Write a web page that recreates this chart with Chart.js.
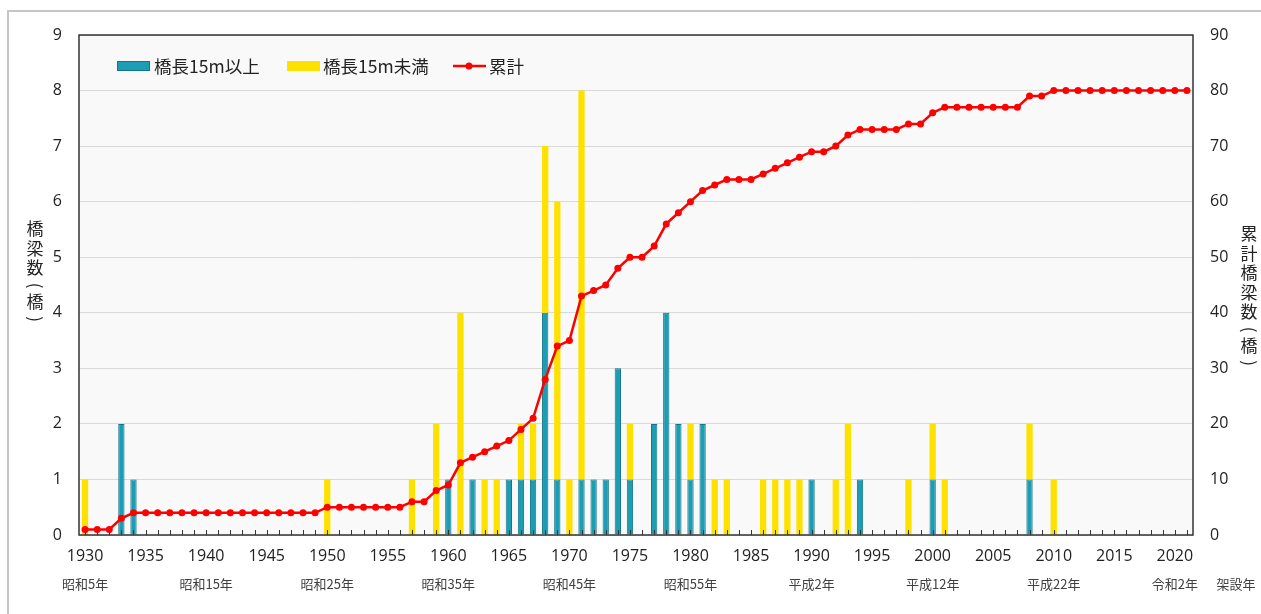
<!DOCTYPE html>
<html lang="ja">
<head>
<meta charset="utf-8">
<title>架設年別橋梁数</title>
<script src="https://cdn.jsdelivr.net/npm/chart.js@4.4.1/dist/chart.umd.min.js"></script>
<style>
  html, body { margin: 0; padding: 0; background: #fff; overflow: hidden; }
  #wrap { position: relative; width: 1261px; height: 614px; }
  #frame { position: absolute; left: 7px; top: 10px; width: 1300px; height: 700px;
           border-top: 2px solid #c6c6c6; border-left: 2px solid #c6c6c6; pointer-events: none; }
  canvas { position: absolute; left: 0; top: 0; }
</style>
</head>
<body>
<div id="wrap">
  <canvas id="c" width="1261" height="614"></canvas>
  <div id="frame"></div>
</div>
<script>
// 架設年 (1930〜2021)
const years = Array.from({ length: 92 }, (_, i) => 1930 + i);

// 橋長15m以上
const over15 = [
  0, 0, 0, 2, 1, 0, 0, 0, 0, 0,   // 1930s
  0, 0, 0, 0, 0, 0, 0, 0, 0, 0,   // 1940s
  0, 0, 0, 0, 0, 0, 0, 0, 0, 0,   // 1950s
  1, 0, 1, 0, 0, 1, 1, 1, 4, 1,   // 1960s
  0, 1, 1, 1, 3, 1, 0, 2, 4, 2,   // 1970s
  1, 2, 0, 0, 0, 0, 0, 0, 0, 0,   // 1980s
  1, 0, 0, 0, 1, 0, 0, 0, 0, 0,   // 1990s
  1, 0, 0, 0, 0, 0, 0, 0, 1, 0,   // 2000s
  0, 0, 0, 0, 0, 0, 0, 0, 0, 0,   // 2010s
  0, 0                            // 2020s
];

// 橋長15m未満
const under15 = [
  1, 0, 0, 0, 0, 0, 0, 0, 0, 0,
  0, 0, 0, 0, 0, 0, 0, 0, 0, 0,
  1, 0, 0, 0, 0, 0, 0, 1, 0, 2,
  0, 4, 0, 1, 1, 0, 1, 1, 3, 5,
  1, 7, 0, 0, 0, 1, 0, 0, 0, 0,
  1, 0, 1, 1, 0, 0, 1, 1, 1, 1,
  0, 0, 1, 2, 0, 0, 0, 0, 1, 0,
  1, 1, 0, 0, 0, 0, 0, 0, 1, 0,
  1, 0, 0, 0, 0, 0, 0, 0, 0, 0,
  0, 0
];

// 累計
const cumulative = [
  1, 1, 1, 3, 4, 4, 4, 4, 4, 4,
  4, 4, 4, 4, 4, 4, 4, 4, 4, 4,
  5, 5, 5, 5, 5, 5, 5, 6, 6, 8,
  9, 13, 14, 15, 16, 17, 19, 21, 28, 34,
  35, 43, 44, 45, 48, 50, 50, 52, 56, 58,
  60, 62, 63, 64, 64, 64, 65, 66, 67, 68,
  69, 69, 70, 72, 73, 73, 73, 73, 74, 74,
  76, 77, 77, 77, 77, 77, 77, 77, 79, 79,
  80, 80, 80, 80, 80, 80, 80, 80, 80, 80,
  80, 80
];

// 和暦の補助ラベル
const eraYears = [1930, 1940, 1950, 1960, 1970, 1980, 1990, 2000, 2010, 2020];
const eraLabels = ['昭和5年', '昭和15年', '昭和25年', '昭和35年', '昭和45年',
                   '昭和55年', '平成2年', '平成12年', '平成22年', '令和2年'];

const TEAL = '#1c9db4';
const TEAL_EDGE = '#137687';
const YELLOW = '#ffe100';
const RED = '#ff0000';
const JP = '"Noto Sans CJK JP", sans-serif';
const NUM = '"Open Sans", "Noto Sans", sans-serif';

// 縦書きタイトル（括弧は回転して描く）
function drawVertical(ctx, chars, x, y) {
    ctx.save();
    ctx.font = '17px ' + JP;
    ctx.fillStyle = '#222';
    ctx.textAlign = 'center';
    ctx.textBaseline = 'middle';
    chars.forEach(ch => {
        if (ch === '(' || ch === ')') {
            y -= 2;
            ctx.save();
            ctx.translate(x, y);
            ctx.rotate(Math.PI / 2);
            ctx.fillText(ch, 0, 0);
            ctx.restore();
            y += 16;
        } else {
            ctx.fillText(ch, x, y);
            y += 19.5;
        }
    });
    ctx.restore();
}

const decoPlugin = {
    id: 'deco',
    beforeDraw(chart) {
        const { ctx, chartArea: a } = chart;
        ctx.save();
        ctx.fillStyle = '#f9f9f9';
        ctx.fillRect(a.left, a.top, a.right - a.left, a.bottom - a.top);
        ctx.restore();
    },
    afterDraw(chart) {
        const { ctx, chartArea: a } = chart;
        const xs = chart.scales.x;
        ctx.save();

        // 枠線
        ctx.strokeStyle = '#333';
        ctx.lineWidth = 1.5;
        ctx.strokeRect(a.left, a.top, a.right - a.left, a.bottom - a.top);

        // 内向きの目盛り
        ctx.lineWidth = 1;
        ctx.beginPath();
        years.forEach((y, i) => {
            const px = Math.round(xs.getPixelForValue(i)) + 0.5;
            ctx.moveTo(px, a.bottom);
            ctx.lineTo(px, a.bottom - 5);
        });
        ctx.stroke();

        // 和暦ラベル
        ctx.font = '13px ' + JP;
        ctx.fillStyle = '#404040';
        ctx.textAlign = 'center';
        ctx.textBaseline = 'middle';
        eraYears.forEach((yr, k) => {
            const px = xs.getPixelForValue(years.indexOf(yr));
            ctx.fillText(eraLabels[k], px, 584);
        });
        ctx.fillText('架設年', 1236, 584);

        // 凡例
        ctx.font = '17.5px ' + JP;
        ctx.textAlign = 'left';
        const ly = 66;
        ctx.fillStyle = TEAL;
        ctx.fillRect(117, ly - 5, 33, 10);
        ctx.strokeStyle = TEAL_EDGE;
        ctx.strokeRect(117.5, ly - 4.5, 32, 9);
        ctx.fillStyle = YELLOW;
        ctx.fillRect(287, ly - 5, 33, 10);
        ctx.strokeStyle = RED;
        ctx.lineWidth = 2.5;
        ctx.beginPath();
        ctx.moveTo(453, ly);
        ctx.lineTo(486, ly);
        ctx.stroke();
        ctx.fillStyle = RED;
        ctx.beginPath();
        ctx.arc(469, ly, 3.5, 0, Math.PI * 2);
        ctx.fill();
        ctx.fillStyle = '#222';
        ctx.fillText('橋長15m以上', 154, ly);
        ctx.fillText('橋長15m未満', 323, ly);
        ctx.fillText('累計', 489, ly);
        ctx.restore();

        // 軸タイトル
        drawVertical(ctx, ['橋', '梁', '数', '(', '橋', ')'], 35, 229);
        drawVertical(ctx, ['累', '計', '橋', '梁', '数', '(', '橋', ')'], 1249, 234);
    }
};

const nz = arr => arr.map(v => (v === 0 ? null : v));

new Chart(document.getElementById('c'), {
    type: 'bar',
    data: {
        labels: years,
        datasets: [
            {
                type: 'line', label: '累計', data: cumulative, yAxisID: 'y2', order: 0,
                borderColor: RED, backgroundColor: RED, borderWidth: 2.5,
                pointRadius: 3.5, pointBackgroundColor: RED, pointBorderWidth: 0, tension: 0
            },
            {
                label: '橋長15m以上', data: nz(over15), yAxisID: 'y', order: 1,
                backgroundColor: TEAL, borderColor: TEAL_EDGE, borderWidth: 1,
                barPercentage: 0.52, categoryPercentage: 1
            },
            {
                label: '橋長15m未満', data: nz(under15), yAxisID: 'y', order: 1,
                backgroundColor: YELLOW, borderWidth: 0,
                barPercentage: 0.52, categoryPercentage: 1
            }
        ]
    },
    options: {
        responsive: false,
        animation: false,
        layout: { padding: { top: 35, left: 0, right: 0, bottom: 0 } },
        plugins: { legend: { display: false }, tooltip: { enabled: false } },
        scales: {
            x: {
                stacked: true,
                offset: true,
                grid: { display: false, drawTicks: false },
                border: { display: false },
                ticks: {
                    autoSkip: false, maxRotation: 0, padding: 12,
                    color: '#222', font: { family: NUM, size: 16 },
                    callback: (v, i) => (years[i] % 5 === 0 ? String(years[i]) : '')
                },
                afterFit: s => { s.height = 79; }
            },
            y: {
                stacked: true, position: 'left', min: 0, max: 9,
                grid: { color: '#d9d9d9', lineWidth: 1, drawTicks: false },
                border: { display: false },
                ticks: { stepSize: 1, padding: 17, color: '#222', font: { family: NUM, size: 16 } },
                afterFit: s => { s.width = 79; }
            },
            y2: {
                position: 'right', min: 0, max: 90,
                grid: { drawOnChartArea: false, drawTicks: false },
                border: { display: false },
                ticks: { stepSize: 10, padding: 17, color: '#222', font: { family: NUM, size: 16 } },
                afterFit: s => { s.width = 68; }
            }
        }
    },
    plugins: [decoPlugin]
});
</script>
</body>
</html>
